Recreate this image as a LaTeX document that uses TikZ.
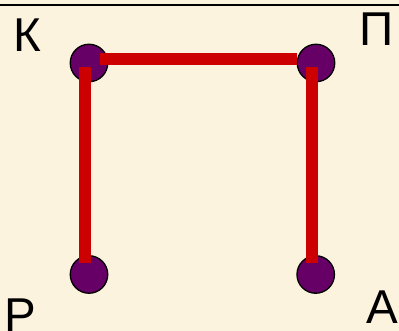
\documentclass[tikz,border=0pt]{standalone}
\usepackage{fontspec}
\setmainfont{Liberation Sans}
\definecolor{bgbeige}{RGB}{252,243,222}
\definecolor{dotpurple}{RGB}{102,0,102}
\definecolor{linered}{RGB}{204,0,0}
\begin{document}
\begin{tikzpicture}[x=1pt,y=1pt,
  vertex/.style={circle,draw=black,line width=1.3pt,fill=dotpurple,minimum size=37.5pt,inner sep=0pt},
  edge/.style={linered,line width=12pt},
  lbl/.style={anchor=base,inner sep=0pt,font=\fontsize{47.5}{50}\selectfont}]
\fill[bgbeige] (0,0) rectangle (399,331);
\useasboundingbox (0,0) rectangle (399,331);
\draw[black,line width=2pt] (0,325.5) -- (399,325.5);
\node[vertex] (K) at (89,268) {};
\node[vertex] (P) at (316,268) {};
\node[vertex] (R) at (89,56.5) {};
\node[vertex] (A) at (315.7,56.5) {};
\draw[edge] ([shift={(11,4)}]K.center) -- ([shift={(-19,4)}]P.center);
\draw[edge] ([shift={(-4,-4)}]K.center) -- ([shift={(-4,11.5)}]R.center);
\draw[edge] ([shift={(-4.3,-4)}]P.center) -- ([shift={(-4,11.5)}]A.center);
\node[lbl] (tK) at (27.5,279) {К};
\node[lbl] (tP) at (377,285.3) {П};
\node[lbl] (tR) at (20,-1) {Р};
\node[lbl] (tA) at (382.5,7) {А};
\end{tikzpicture}
\end{document}
